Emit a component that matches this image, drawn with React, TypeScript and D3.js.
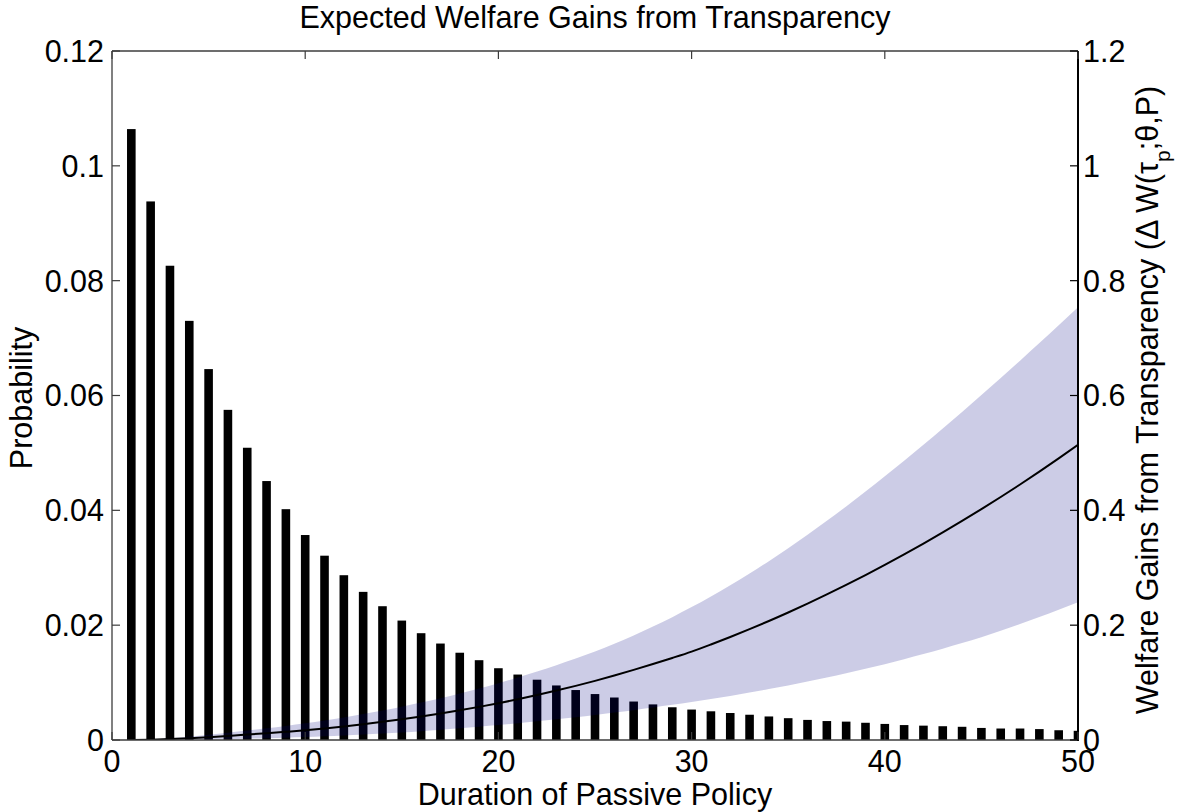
import React from "react";
import * as d3 from "d3";

// ---- data ----
const durations: number[] = Array.from({ length: 50 }, (_, i) => i + 1);

const probability: number[] = [
  0.1064, 0.0938, 0.0826, 0.0730, 0.0646, 0.0575, 0.0509, 0.0451, 0.0402, 0.0357,
  0.0321, 0.0287, 0.0258, 0.0233, 0.0208, 0.0186, 0.0168, 0.0152, 0.0139, 0.0125,
  0.0114, 0.0105, 0.0095, 0.0087, 0.0080, 0.0074, 0.0067, 0.0062, 0.0057, 0.0053,
  0.0050, 0.0047, 0.0044, 0.0041, 0.0038, 0.0035, 0.0033, 0.0032, 0.0030, 0.0028,
  0.0026, 0.0025, 0.0024, 0.0023, 0.0021, 0.0020, 0.0020, 0.0019, 0.0017, 0.0016,
];

const welfareMean: number[] = [
  0.0000, 0.0006, 0.0016, 0.0031, 0.0050, 0.0071, 0.0094, 0.0118, 0.0143, 0.0170,
  0.0202, 0.0237, 0.0275, 0.0316, 0.0360, 0.0409, 0.0462, 0.0518, 0.0577, 0.0640,
  0.0709, 0.0783, 0.0861, 0.0943, 0.1030, 0.1123, 0.1221, 0.1323, 0.1429, 0.1540,
  0.1664, 0.1794, 0.1930, 0.2072, 0.2220, 0.2375, 0.2535, 0.2701, 0.2873, 0.3050,
  0.3233, 0.3422, 0.3616, 0.3815, 0.4020, 0.4232, 0.4450, 0.4674, 0.4904, 0.5140,
];

const welfareUpper: number[] = [
  0.0000, 0.0012, 0.0032, 0.0058, 0.0090, 0.0126, 0.0164, 0.0204, 0.0246, 0.0290,
  0.0340, 0.0394, 0.0452, 0.0514, 0.0580, 0.0652, 0.0729, 0.0811, 0.0898, 0.0990,
  0.1089, 0.1194, 0.1304, 0.1419, 0.1540, 0.1675, 0.1820, 0.1975, 0.2140, 0.2315,
  0.2500, 0.2695, 0.2900, 0.3115, 0.3340, 0.3574, 0.3817, 0.4068, 0.4327, 0.4593,
  0.4865, 0.5143, 0.5426, 0.5714, 0.6007, 0.6305, 0.6607, 0.6913, 0.7223, 0.7537,
];

const welfareLower: number[] = [
  0.0000, 0.0001, 0.0003, 0.0006, 0.0009, 0.0015, 0.0022, 0.0031, 0.0041, 0.0052,
  0.0065, 0.0080, 0.0096, 0.0113, 0.0131, 0.0153, 0.0177, 0.0203, 0.0231, 0.0261,
  0.0292, 0.0325, 0.0360, 0.0397, 0.0436, 0.0477, 0.0520, 0.0565, 0.0612, 0.0661,
  0.0713, 0.0768, 0.0826, 0.0887, 0.0951, 0.1018, 0.1089, 0.1163, 0.1240, 0.1321,
  0.1407, 0.1497, 0.1591, 0.1689, 0.1791, 0.1903, 0.2020, 0.2142, 0.2269, 0.2401,
];

const xTicks: number[] = [0, 10, 20, 30, 40, 50];
const yLeftTicks: number[] = [0, 0.02, 0.04, 0.06, 0.08, 0.1, 0.12];
const yRightTicks: number[] = [0, 0.2, 0.4, 0.6, 0.8, 1, 1.2];

const title = "Expected Welfare Gains from Transparency";
const xLabel = "Duration of Passive Policy";
const yLeftLabel = "Probability";

// ---- layout ----
const W = 1181;
const H = 812;
const L = 112;
const R = 1078;
const T = 51;
const B = 740;
const FONT = "'Liberation Sans', Arial, Helvetica, sans-serif";
const FS = 30.5;
const TICK = 8;

export default function App() {
  const x = d3.scaleLinear().domain([0, 50]).range([L, R]);
  const yL = d3.scaleLinear().domain([0, 0.12]).range([B, T]);
  const yR = d3.scaleLinear().domain([0, 1.2]).range([B, T]);
  const barW = 8.6;

  const band = d3
    .area<number>()
    .x((_, i) => x(durations[i]))
    .y0((_, i) => yR(welfareLower[i]))
    .y1((_, i) => yR(welfareUpper[i]))
    .curve(d3.curveMonotoneX)(durations) as string;

  const line = d3
    .line<number>()
    .x((_, i) => x(durations[i]))
    .y((_, i) => yR(welfareMean[i]))
    .curve(d3.curveMonotoneX)(durations) as string;

  const fmtL = (v: number) => (v === 0 ? "0" : String(+v.toFixed(2)));
  const fmtR = (v: number) => (v === 0 ? "0" : String(+v.toFixed(1)));

  return (
    <svg
      width={W}
      height={H}
      style={{ position: "absolute", left: 0, top: 0, background: "#fff" }}
      fontFamily={FONT}
    >
      <rect x={0} y={0} width={W} height={H} fill="#fff" />
      <defs>
        <clipPath id="plotclip">
          <rect x={L} y={T} width={R - L} height={B - T} />
        </clipPath>
      </defs>

      <g clipPath="url(#plotclip)">
        {durations.map((d, i) => (
          <rect
            key={d}
            x={x(d) - barW / 2}
            y={yL(probability[i])}
            width={barW}
            height={B - yL(probability[i])}
            fill="#000"
          />
        ))}
        <path d={band} fill="rgb(0,0,128)" fillOpacity={0.2} stroke="none" />
        <path d={line} fill="none" stroke="#000" strokeWidth={2} />
      </g>

      {/* box */}
      <line x1={L} y1={T} x2={R} y2={T} stroke="#3c3c3c" strokeWidth={1.3} />
      <line x1={L} y1={B} x2={R} y2={B} stroke="#3c3c3c" strokeWidth={1.3} />
      <line x1={L} y1={T} x2={L} y2={B} stroke="#3c3c3c" strokeWidth={1.3} />
      <line x1={R} y1={T} x2={R} y2={B + 1} stroke="#000" strokeWidth={2} />

      {/* x ticks */}
      {xTicks.map((t) => (
        <g key={"x" + t}>
          <line x1={x(t)} x2={x(t)} y1={B} y2={B - TICK} stroke="#3c3c3c" strokeWidth={1.2} />
          <line x1={x(t)} x2={x(t)} y1={T} y2={T + TICK} stroke="#3c3c3c" strokeWidth={1.2} />
          <text x={x(t)} y={B + 32} textAnchor="middle" fontSize={FS} fill="#000">
            {t}
          </text>
        </g>
      ))}

      {/* left y ticks */}
      {yLeftTicks.map((t) => (
        <g key={"yl" + t}>
          <line x1={L} x2={L + TICK} y1={yL(t)} y2={yL(t)} stroke="#3c3c3c" strokeWidth={1.2} />
          <text x={L - 8} y={yL(t)} dy="0.36em" textAnchor="end" fontSize={FS} fill="#000">
            {fmtL(t)}
          </text>
        </g>
      ))}

      {/* right y ticks */}
      {yRightTicks.map((t) => (
        <g key={"yr" + t}>
          <line x1={R} x2={R - TICK} y1={yR(t)} y2={yR(t)} stroke="#000" strokeWidth={1.2} />
          <text x={R + 5} y={yR(t)} dy="0.36em" textAnchor="start" fontSize={FS} fill="#000">
            {fmtR(t)}
          </text>
        </g>
      ))}

      {/* title */}
      <text x={(L + R) / 2} y={28} textAnchor="middle" fontSize={FS} fill="#000">
        {title}
      </text>

      {/* x label */}
      <text x={(L + R) / 2} y={805} textAnchor="middle" fontSize={FS} fill="#000">
        {xLabel}
      </text>

      {/* left y label */}
      <text
        transform={`translate(32, 398) rotate(-90)`}
        textAnchor="middle"
        fontSize={FS}
        fill="#000"
      >
        {yLeftLabel}
      </text>

      {/* right y label */}
      <text
        transform={`translate(1158, 400) rotate(-90)`}
        textAnchor="middle"
        fontSize={FS}
        fill="#000"
      >
        Welfare Gains from Transparency (Δ W(τ
        <tspan baselineShift="sub" fontSize={21}>p</tspan>
        <tspan>;θ,P)</tspan>
      </text>
    </svg>
  );
}
